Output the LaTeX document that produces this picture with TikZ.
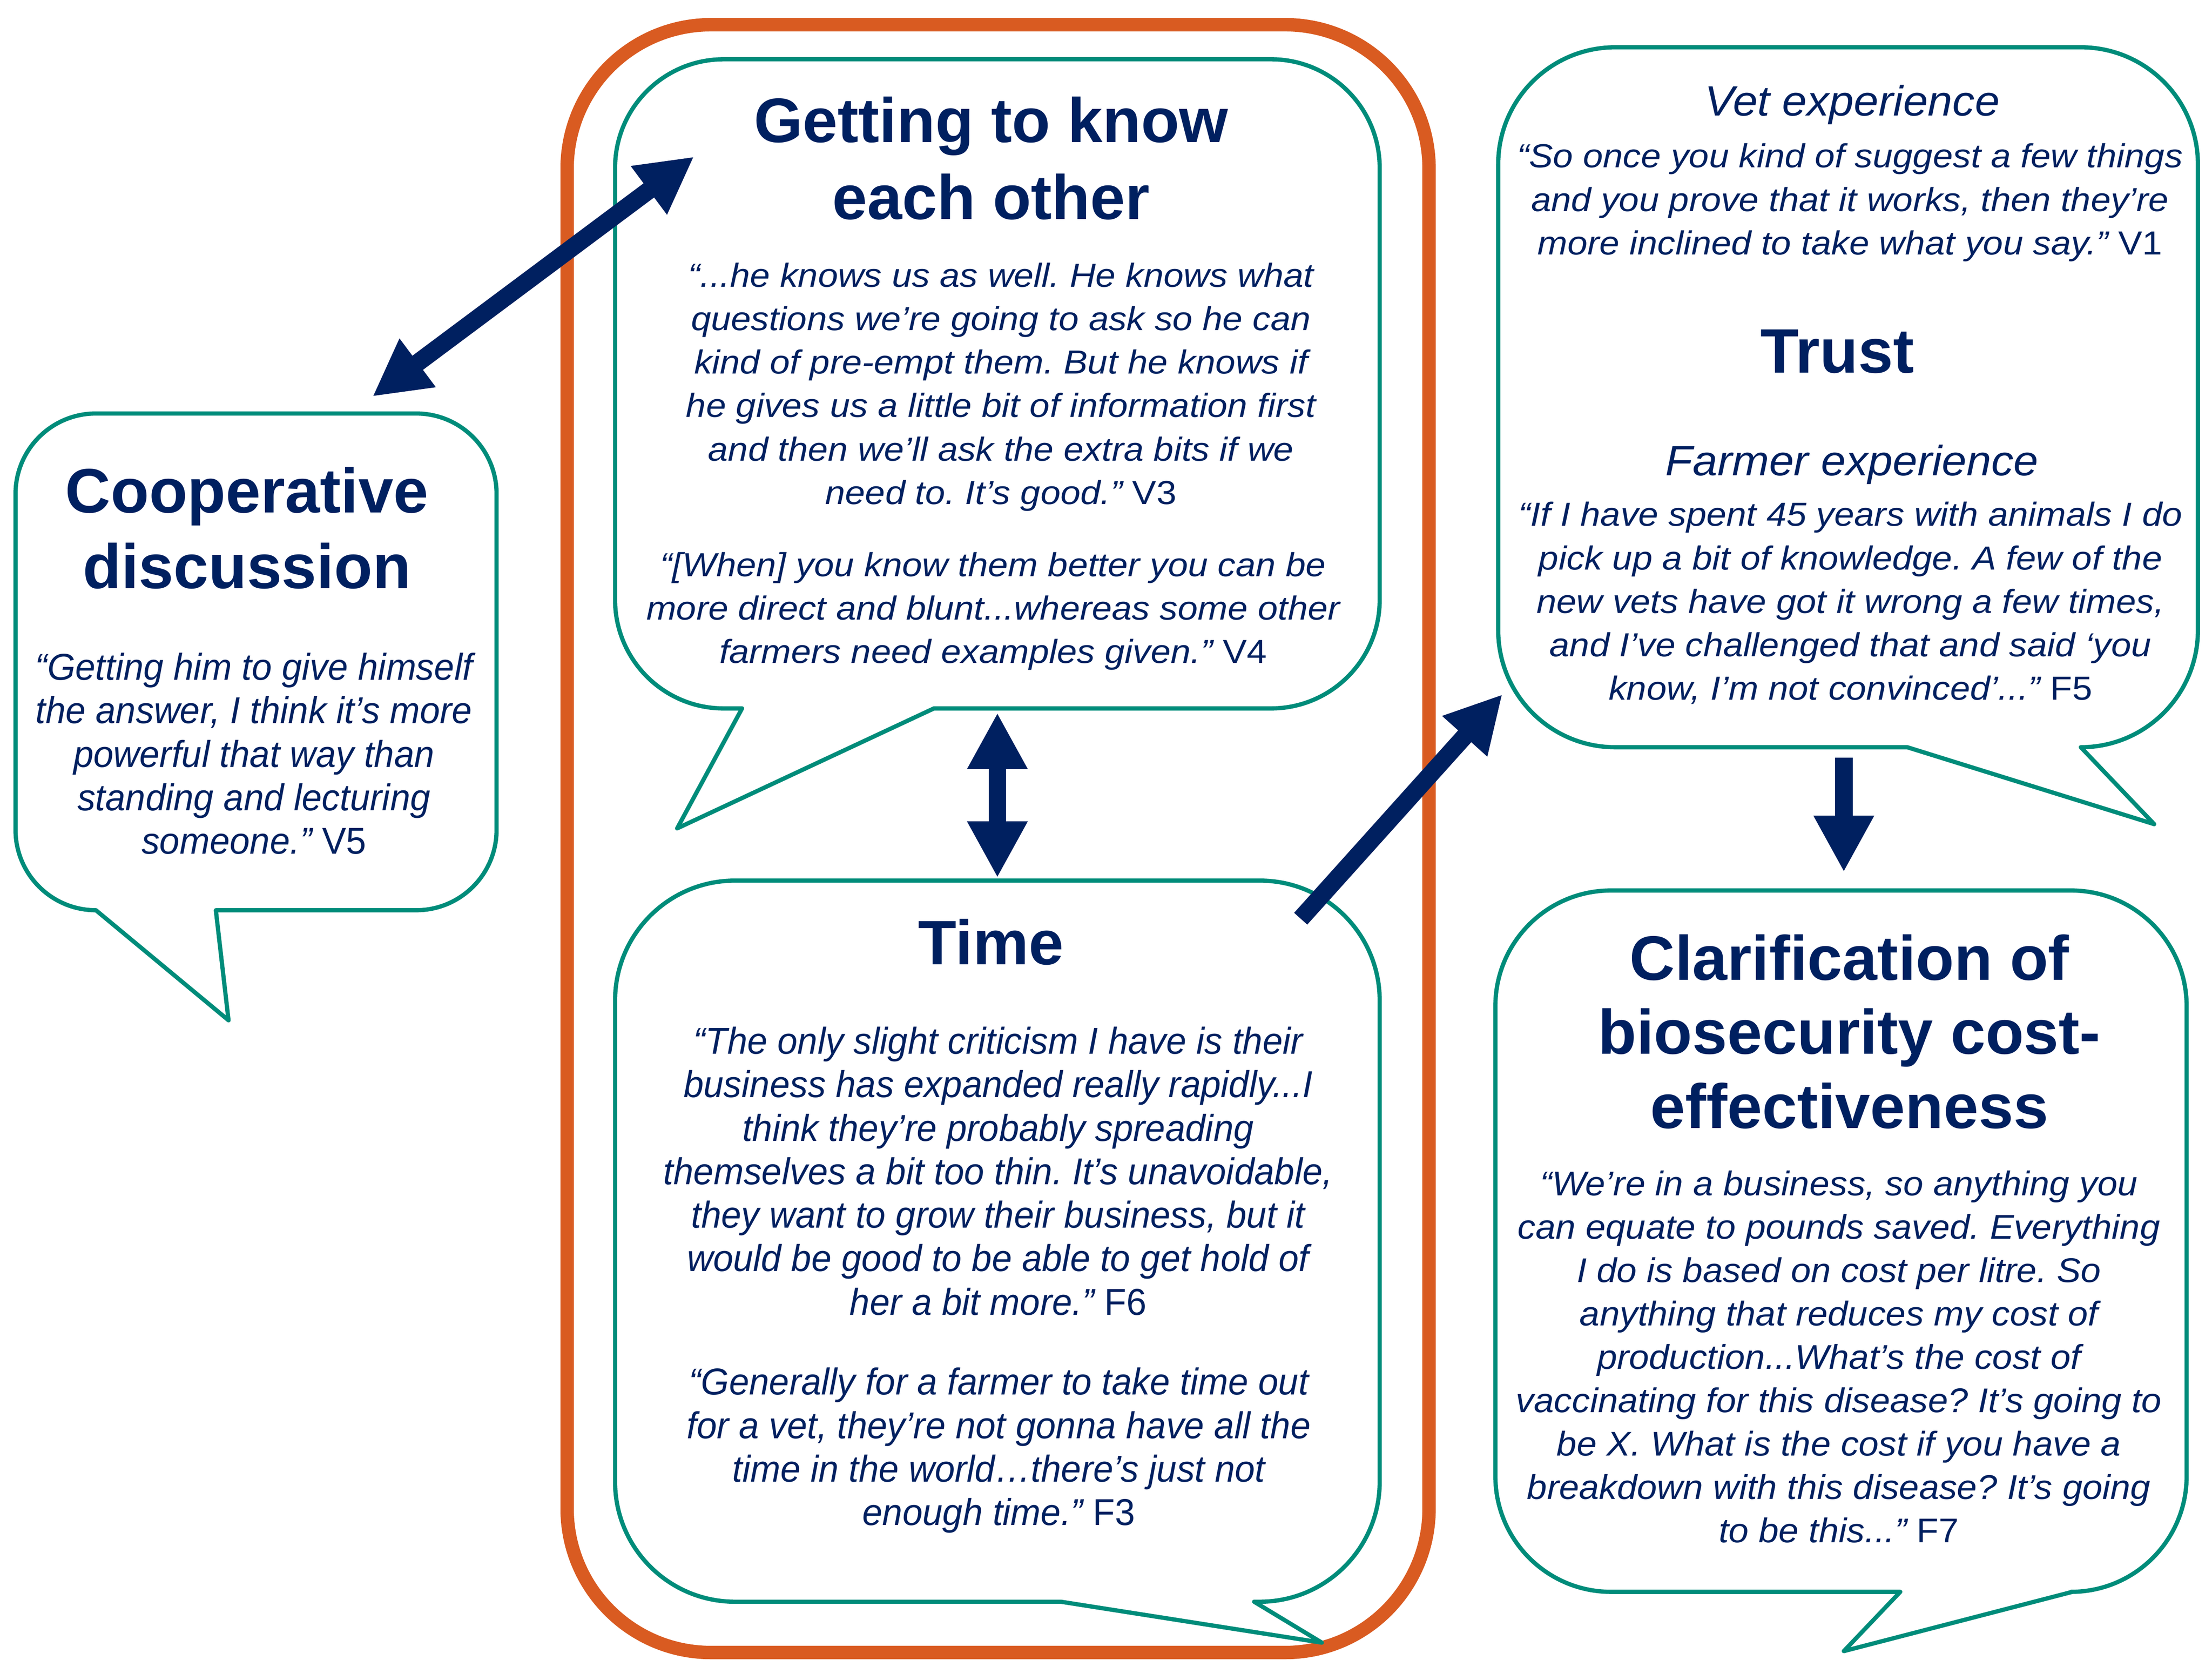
\documentclass[tikz,border=0pt]{standalone}
\usepackage{fontspec}
\setmainfont{Liberation Sans}
\newfontfamily\wideA[FakeStretch=1.08]{Liberation Sans}
\newfontfamily\wideB[FakeStretch=1.05]{Liberation Sans}
\newfontfamily\narrowA[FakeStretch=0.965]{Liberation Sans}
\usetikzlibrary{arrows.meta}
\definecolor{navy}{RGB}{0,32,96}
\definecolor{bteal}{RGB}{0,140,122}
\definecolor{borange}{RGB}{217,91,33}
\frenchspacing
% L, T, R, B, r, tail right base x, tip x, tip y, tail left base x
\newcommand\speechbox[9]{%
  \draw[bubblebox] (#1,#2+#5) arc[start angle=180,end angle=270,radius=#5]
    -- (#3-#5,#2) arc[start angle=270,end angle=360,radius=#5]
    -- (#3,#4-#5) arc[start angle=0,end angle=90,radius=#5]
    -- (#6,#4) -- (#7,#8) -- (#9,#4)
    -- (#1+#5,#4) arc[start angle=90,end angle=180,radius=#5] -- cycle;}
\begin{document}
\begin{tikzpicture}[x=1pt,y=-1pt,
  bubblebox/.style={draw=bteal,line width=3pt,fill=white,line join=round},
  outerframe/.style={draw=borange,line width=9.5pt,rounded corners=102pt},
  arr/.style={draw=navy,line width=12.5pt,-{Triangle[length=40pt,width=40pt]}},
  darr/.style={draw=navy,line width=12.5pt,{Triangle[length=40pt,width=40pt]}-{Triangle[length=40pt,width=40pt]}},
  ttl/.style={text=navy,align=center,inner sep=0pt},
  qt/.style={text=navy,align=center,inner sep=0pt,anchor=north,
    execute at begin node=\strut,execute at end node=\strut},
  qA/.style={font={\wideA\itshape\fontsize{23.6}{30.8}\selectfont}},
  qB/.style={font={\wideB\itshape\fontsize{24.3}{30.7}\selectfont}},
  qN/.style={font={\narrowA\itshape\fontsize{26.5}{30.8}\selectfont}},
]
\useasboundingbox (0,0) rectangle (1568,1176);
\fill[white] (0,0) rectangle (1568,1176);

% orange frame
\draw[outerframe] (402,17.5) rectangle (1013,1171);

% speech bubbles
\speechbox{11}{293}{352}{645}{57}{153}{162}{723}{68}
\speechbox{436}{42}{978}{502}{77}{662}{480}{587}{526}
\speechbox{436}{624}{978}{1135}{85}{889}{937}{1164}{752}
\speechbox{1062}{33.5}{1558}{529.5}{83}{1475}{1527}{584}{1352}
\speechbox{1060}{631}{1550}{1128}{82}{1469}{1307}{1170}{1347}

% Cooperative discussion
\node[ttl,anchor=north,font={\bfseries\fontsize{44.5}{53.5}\selectfont},
  execute at begin node=\strut,execute at end node=\strut] (cdT) at (175,331)
  {Cooperative\\discussion};
\node[qt,qN] (cdQ) at (180,462.5)
  {“Getting him to give himself\\the answer, I think it’s more\\powerful that way than\\standing and lecturing\\someone.” {\upshape V5}};

% Getting to know each other
\node[ttl,anchor=north,font={\bfseries\fontsize{44.5}{54.5}\selectfont},
  execute at begin node=\strut,execute at end node=\strut] (gkT) at (702.5,68.5)
  {Getting to know\\each other};
\node[qt,qA] (gkQ1) at (709.5,186)
  {“...he knows us as well. He knows what\\questions we’re going to ask so he can\\kind of pre-empt them. But he knows if\\he gives us a little bit of information first\\and then we’ll ask the extra bits if we\\need to. It’s good.” {\upshape V3}};
\node[qt,qA] (gkQ2) at (704,391)
  {“[When] you know them better you can be\\more direct and blunt...whereas some other\\farmers need examples given.” {\upshape V4}};

% Time
\node[ttl,anchor=base,font={\bfseries\fontsize{44.5}{54}\selectfont}] (tmT) at (702.5,683.5) {Time};
\node[qt,qN] (tmQ1) at (707.5,727.5)
  {“The only slight criticism I have is their\\business has expanded really rapidly...I\\think they’re probably spreading\\themselves a bit too thin. It’s unavoidable,\\they want to grow their business, but it\\would be good to be able to get hold of\\her a bit more.” {\upshape F6}};
\node[qt,qN] (tmQ2) at (708,969)
  {“Generally for a farmer to take time out\\for a vet, they’re not gonna have all the\\time in the world…there’s just not\\enough time.” {\upshape F3}};

% Trust
\node[ttl,anchor=base,font={\wideB\itshape\fontsize{30}{36}\selectfont}] (trV) at (1313,82) {Vet experience};
\node[qt,qA] (trVQ) at (1311.4,101.5)
  {“So once you kind of suggest a few things\\and you prove that it works, then they’re\\more inclined to take what you say.” {\upshape V1}};
\node[ttl,anchor=base,font={\bfseries\fontsize{44.5}{54}\selectfont}] (trT) at (1302.3,264.3) {Trust};
\node[ttl,anchor=base,font={\wideB\itshape\fontsize{30}{36}\selectfont}] (trF) at (1312.8,337) {Farmer experience};
\node[qt,qA] (trFQ) at (1311.7,355.5)
  {“If I have spent 45 years with animals I do\\pick up a bit of knowledge. A few of the\\new vets have got it wrong a few times,\\and I’ve challenged that and said ‘you\\know, I’m not convinced’...” {\upshape F5}};

% Clarification
\node[ttl,anchor=north,font={\bfseries\fontsize{44.5}{52.5}\selectfont},
  execute at begin node=\strut,execute at end node=\strut] (clT) at (1311,662)
  {Clarification of\\biosecurity cost-\\effectiveness};
\node[qt,qB] (clQ) at (1303.5,829.5)
  {“We’re in a business, so anything you\\can equate to pounds saved. Everything\\I do is based on cost per litre. So\\anything that reduces my cost of\\production...What’s the cost of\\vaccinating for this disease? It’s going to\\be X. What is the cost if you have a\\breakdown with this disease? It’s going\\to be this...” {\upshape F7}};

% arrows
\coordinate (a1s) at (264,281);
\coordinate (a1e) at (492,111);
\coordinate (a2s) at (707,505);
\coordinate (a2e) at (707,622);
\coordinate (a3s) at (922,651);
\coordinate (a3e) at (1065,492);
\coordinate (a4s) at (1307,537);
\coordinate (a4e) at (1307,618);
\draw[darr] (a1s) -- (a1e);
\draw[darr] (a2s) -- (a2e);
\draw[arr] (a3s) -- (a3e);
\draw[arr] (a4s) -- (a4e);
\end{tikzpicture}
\end{document}
